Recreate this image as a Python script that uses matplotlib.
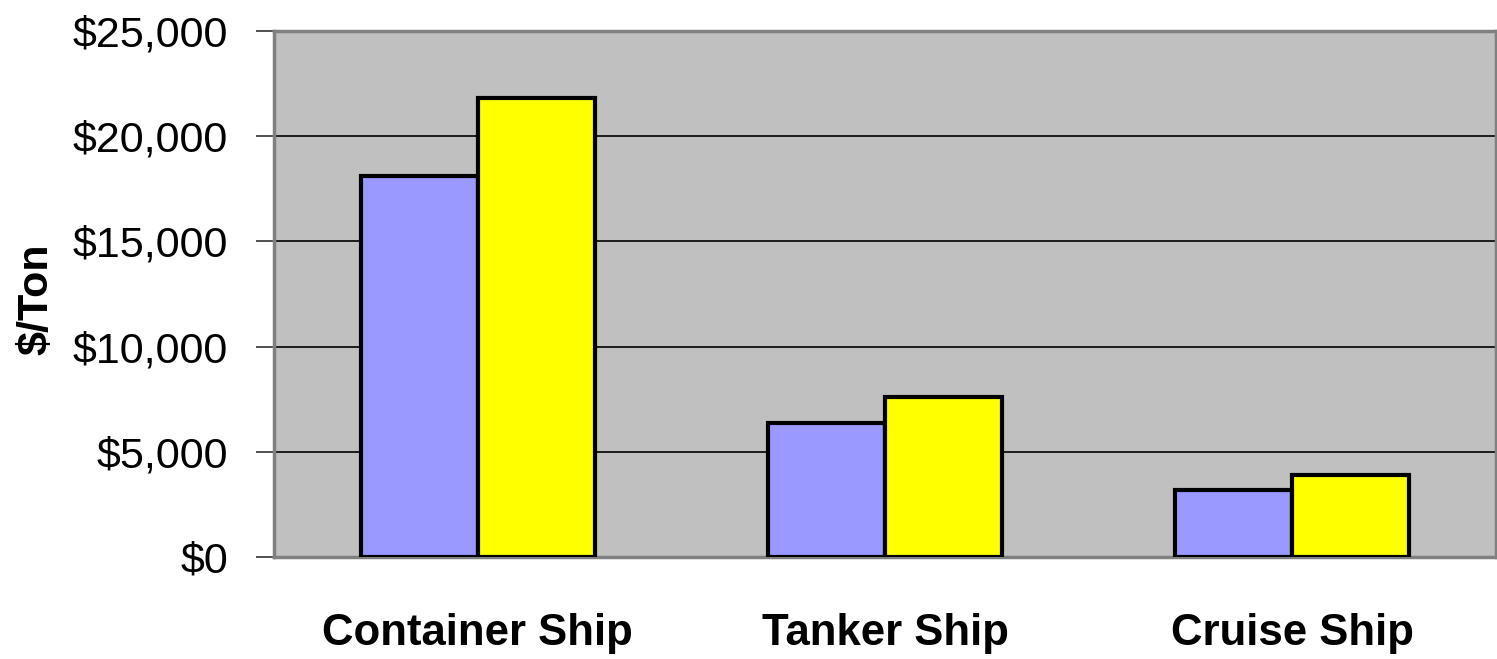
import numpy as np
import matplotlib.pyplot as plt
from matplotlib.ticker import FuncFormatter

plt.rcParams['font.family'] = ['Liberation Sans', 'DejaVu Sans']

# Data
categories = ['Container Ship', 'Tanker Ship', 'Cruise Ship']
series_blue = [18100, 6350, 3180]
series_yellow = [21800, 7600, 3880]
y_ticks = [0, 5000, 10000, 15000, 20000, 25000]

fig = plt.figure(figsize=(14.97, 6.59), dpi=100)
ax = fig.add_axes([274 / 1497, 1 - 557 / 659, (1496 - 274) / 1497, (557 - 31) / 659])
ax.set_facecolor('#c0c0c0')

x = np.arange(len(categories))
w = 0.287
ax.bar(x - w / 2, series_blue, w, color='#9999ff', edgecolor='black', linewidth=3, zorder=3)
ax.bar(x + w / 2, series_yellow, w, color='#ffff00', edgecolor='black', linewidth=3, zorder=3)

ax.set_xlim(-0.5, 2.5)
ax.set_ylim(0, 25000)
ax.set_yticks(y_ticks)
ax.yaxis.set_major_formatter(FuncFormatter(lambda v, p: f"${int(v):,}"))
ax.yaxis.grid(True, color='black', linewidth=1.2, zorder=1)
ax.tick_params(axis='y', length=13, width=1.2, labelsize=31, pad=20, color='#333333')
ax.set_xticks(x)
ax.set_xticklabels(categories, fontsize=31.5, fontweight='bold')
ax.tick_params(axis='x', length=0, pad=40)

for s in ax.spines.values():
    s.set_color('#808080')
    s.set_linewidth(2.5)

ax.set_ylabel('$/Ton', fontsize=31, fontweight='bold')
ax.yaxis.set_label_coords(-0.178, 0.49)

fig.savefig('out.png', dpi=100)
